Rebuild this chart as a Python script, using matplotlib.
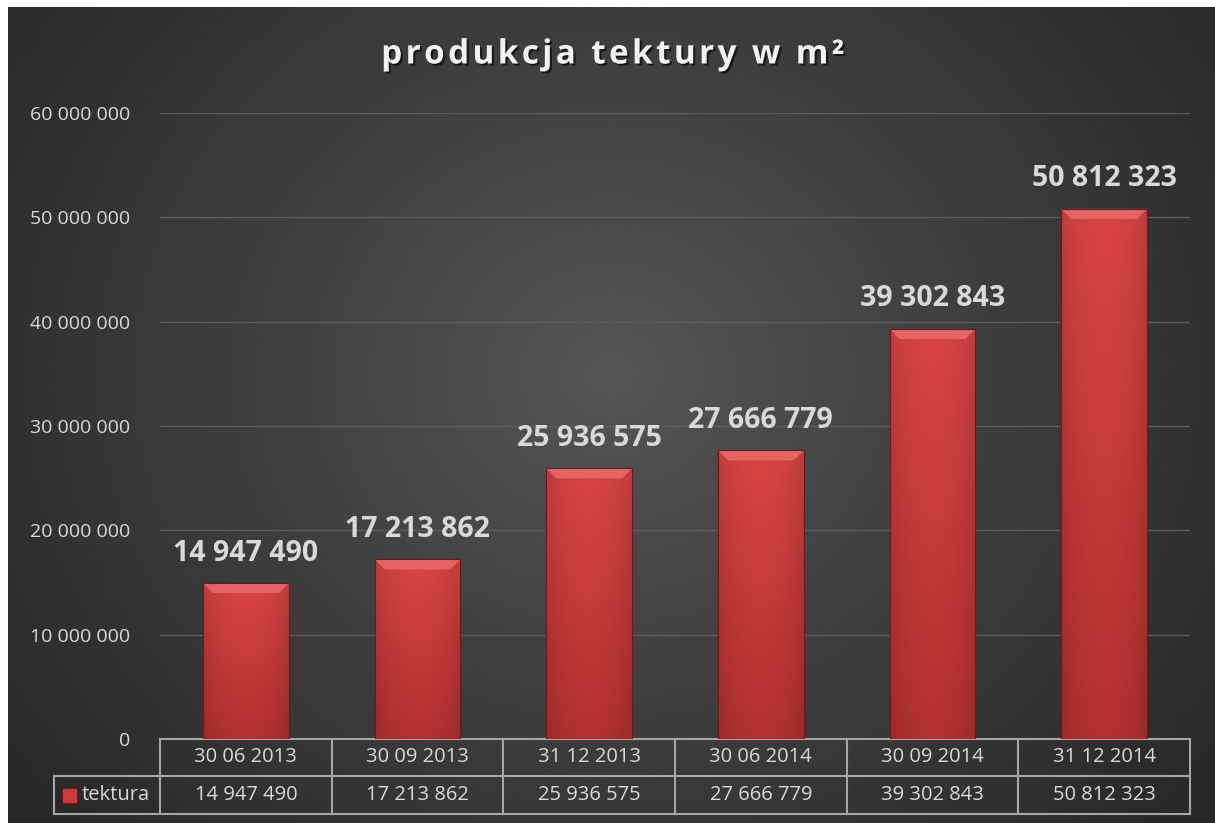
import numpy as np
import matplotlib.pyplot as plt
import matplotlib.patheffects as pe
from matplotlib.patches import Polygon, Rectangle
from matplotlib.lines import Line2D
from matplotlib.ticker import FuncFormatter

plt.rcParams['font.family'] = ['Open Sans', 'DejaVu Sans']

## Dane
title = "produkcja tektury w m²"
series_name = "tektura"
dates = ["30 06 2013", "30 09 2013", "31 12 2013", "30 06 2014", "30 09 2014", "31 12 2014"]
values = [14947490, 17213862, 25936575, 27666779, 39302843, 50812323]
y_ticks = [0, 10000000, 20000000, 30000000, 40000000, 50000000, 60000000]

txt_col = "#d9d9d9"
line_col = "#a6a6a6"

def fmt(v):
    # tysiace oddzielone spacja
    return f"{int(v):,}".replace(",", " ")

W, H = 1215, 823
fig = plt.figure(figsize=(W/100, H/100), dpi=100, facecolor="white")

## Tlo z gradientem (jasniej w srodku)
bg = fig.add_axes([8/W, 0, 1 - 8/W, 1 - 7/H])
yy, xx = np.mgrid[0:1:300j, 0:1:450j]
d = np.sqrt((xx - 0.5)**2 + ((yy - 0.45)*0.75)**2)
shade = 0.34 - 0.18*np.clip(d/0.62, 0, 1)**0.9
bg.imshow(shade, cmap="gray", vmin=0, vmax=1, aspect="auto", extent=[0, 1, 1, 0])
bg.axis("off")

## Glowny wykres
ax = fig.add_axes([160/W, 84/H, 1030/W, 626/H])
ax.patch.set_alpha(0)
x = np.arange(len(values))
bars = ax.bar(x, values, width=0.5, color="#cc3b3b", edgecolor="#6e1818", linewidth=0.8, zorder=2)

# gradient w slupkach
top = np.array([0.85, 0.27, 0.27])
bot = np.array([0.70, 0.19, 0.19])
t = np.linspace(0, 1, 100)[:, None, None]
u = np.linspace(0, 1, 40)[None, :, None]
side = 1 - 0.12*np.abs(u - 0.5)**2*4
grad = (top*(1 - t) + bot*t) * side
for b in bars:
    x0, w, h = b.get_x(), b.get_width(), b.get_height()
    im = ax.imshow(grad, extent=[x0, x0 + w, 0, h], aspect="auto", zorder=2.5, origin="upper")
    im.set_clip_path(b)
    # fazowanie gory slupka
    bh = 10/626*60000000
    dx = 10/171.7
    ax.add_patch(Polygon([(x0, h), (x0 + w, h), (x0 + w - dx, h - bh), (x0 + dx, h - bh)],
                         closed=True, facecolor="#e76464", edgecolor="none", zorder=3))
    ax.add_patch(Rectangle((x0, 0), w, h, facecolor="none", edgecolor="#6e1818", lw=0.8, zorder=3.5))
    ax.annotate(fmt(h), (x0 + w/2, h), xytext=(0, 21.6), textcoords="offset points",
                ha="center", va="center", fontsize=20.5, fontweight="bold", color=txt_col, zorder=4)

ax.set_xlim(-0.5, len(values) - 0.5)
ax.set_ylim(0, 60000000)
ax.set_yticks(y_ticks)
ax.yaxis.set_major_formatter(FuncFormatter(lambda v, p: fmt(v)))
ax.yaxis.grid(True, color="#5c5c5c", lw=1)
ax.set_axisbelow(True)
for s in ax.spines.values():
    s.set_visible(False)
ax.tick_params(left=False, bottom=False, labelbottom=False, labelsize=14, labelcolor=txt_col, pad=18)

## Tabela danych pod wykresem
r1 = -37/626
r2 = -75/626
leg_x = (54 - 160)/1030
def hline(y, xa, xb):
    ax.add_line(Line2D([xa, xb], [y, y], transform=ax.transAxes, color=line_col, lw=1.5, clip_on=False))
def vline(xp, ya, yb):
    ax.add_line(Line2D([xp, xp], [ya, yb], transform=ax.transAxes, color=line_col, lw=1.5, clip_on=False))

hline(0, 0, 1)
hline(r1, leg_x, 1)
hline(r2, leg_x, 1)
for i in range(len(dates) + 1):
    vline(i/len(dates), 0, r2)
vline(leg_x, r1, r2)

for i, (dt, v) in enumerate(zip(dates, values)):
    xc = (i + 0.5)/len(dates)
    ax.text(xc, r1/2, dt, transform=ax.transAxes, ha="center", va="center", fontsize=14.5, color=txt_col)
    ax.text(xc, (r1 + r2)/2, fmt(v), transform=ax.transAxes, ha="center", va="center", fontsize=14.5, color=txt_col)

# legenda w tabeli
ax.add_patch(Rectangle(((62 - 160)/1030, -64/626), 15/1030, 15/626, transform=ax.transAxes,
                       facecolor="#cc3b3b", edgecolor="#6e1818", lw=0.8, clip_on=False))
ax.text((82 - 160)/1030, (r1 + r2)/2, series_name, transform=ax.transAxes, ha="left", va="center",
        fontsize=14.5, color=txt_col)

## Tytul
spaced = "\u200a".join(title)
fig.text(0.505, 1 - 55/H, spaced, ha="center", va="center", fontsize=24, fontweight="bold", color="#f2f2f2",
         path_effects=[pe.withSimplePatchShadow(offset=(1.5, -1.5), shadow_rgbFace="black", alpha=0.6)])

fig.savefig("out.png", dpi=100, facecolor=fig.get_facecolor())
